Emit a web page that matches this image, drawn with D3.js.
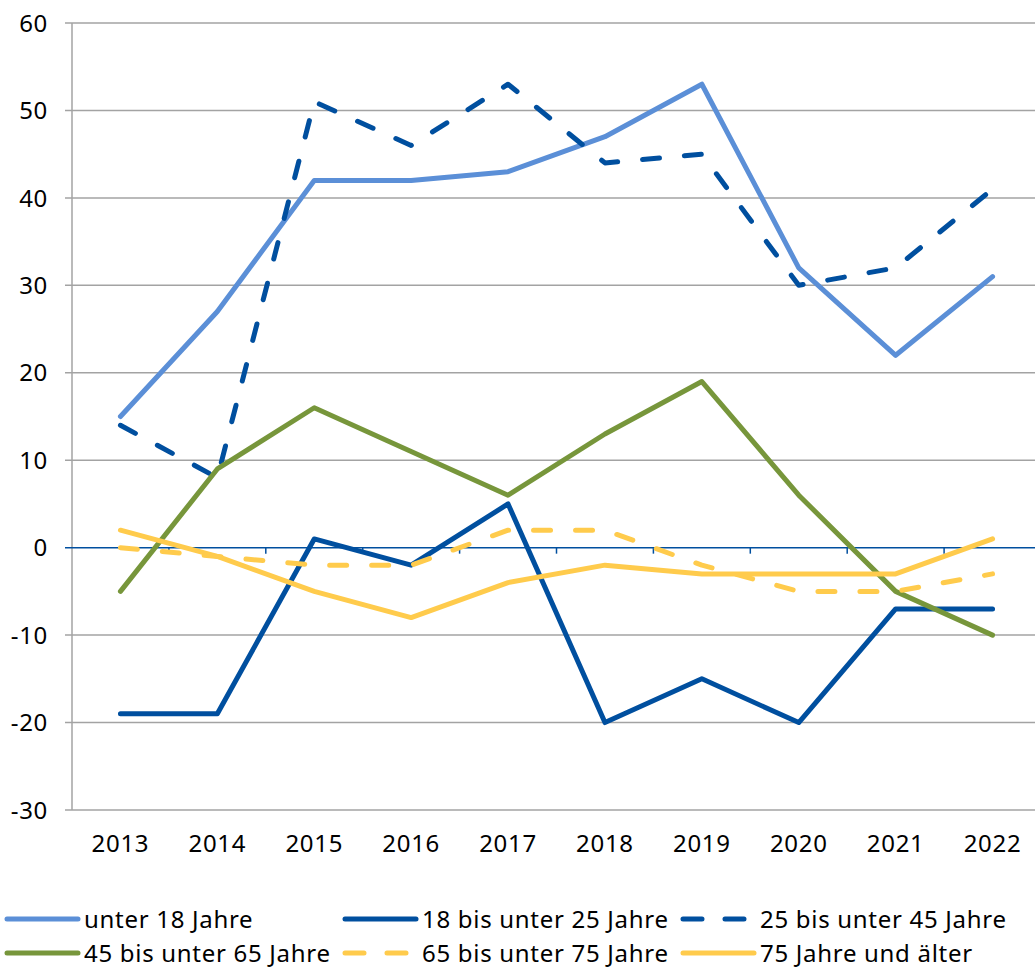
<!DOCTYPE html>
<html>
<head>
<meta charset="utf-8">
<script src="https://cdn.jsdelivr.net/npm/d3@7"></script>
<style>
  body { margin: 0; background: #fff; }
  svg text { font-family: 'Noto Sans', sans-serif; fill: #000; letter-spacing: 0.7px; }
</style>
</head>
<body>
<svg id="chart" width="1035" height="968"></svg>
<script>
let years = ['2013', '2014', '2015', '2016', '2017', '2018', '2019', '2020', '2021', '2022']
let yTicks = [-30, -20, -10, 0, 10, 20, 30, 40, 50, 60]

let unter18 = [15, 27, 42, 42, 43, 47, 53, 32, 22, 31]
let von18bis25 = [-19, -19, 1, -2, 5, -20, -15, -20, -7, -7]
let von25bis45 = [14, 8, 51, 46, 53, 44, 45, 30, 32, 41]
let von45bis65 = [-5, 9, 16, 11, 6, 13, 19, 6, -5, -10]
let von65bis75 = [0, -1, -2, -2, 2, 2, -2, -5, -5, -3]
let ab75 = [2, -1, -5, -8, -4, -2, -3, -3, -3, 1]

let series = [
  { name: 'unter 18 Jahre', values: unter18, color: '#5b8fd7', dashed: false },
  { name: '18 bis unter 25 Jahre', values: von18bis25, color: '#004f9f', dashed: false },
  { name: '25 bis unter 45 Jahre', values: von25bis45, color: '#004f9f', dashed: true },
  { name: '45 bis unter 65 Jahre', values: von45bis65, color: '#77963b', dashed: false },
  { name: '65 bis unter 75 Jahre', values: von65bis75, color: '#ffcb4c', dashed: true },
  { name: '75 Jahre und älter', values: ab75, color: '#ffcb4c', dashed: false }
]

let svg = d3.select('#chart')

let xScale = d3.scaleBand().domain(years).range([72, 1041])
let yScale = d3.scaleLinear().domain([-30, 60]).range([810, 23])

// grid lines
svg.selectAll('.grid')
  .data(yTicks.filter(d => d !== 0))
  .enter()
  .append('line')
  .attr('class', 'grid')
  .attr('x1', 65)
  .attr('x2', 1035)
  .attr('y1', d => yScale(d))
  .attr('y2', d => yScale(d))
  .attr('stroke', '#a3a3a3')
  .attr('stroke-width', 1.5)

// y axis line
svg.append('line')
  .attr('x1', 72).attr('x2', 72)
  .attr('y1', yScale(60)).attr('y2', yScale(-30))
  .attr('stroke', '#a3a3a3')
  .attr('stroke-width', 1.5)

// zero line with category ticks
svg.append('line')
  .attr('x1', 65).attr('x2', 1035)
  .attr('y1', yScale(0)).attr('y2', yScale(0))
  .attr('stroke', '#004f9f')
  .attr('stroke-width', 1.5)

svg.selectAll('.zero-tick')
  .data(years.slice(1))
  .enter()
  .append('line')
  .attr('class', 'zero-tick')
  .attr('x1', d => xScale(d))
  .attr('x2', d => xScale(d))
  .attr('y1', yScale(0))
  .attr('y2', yScale(0) + 6)
  .attr('stroke', '#004f9f')
  .attr('stroke-width', 1.5)

// y labels
svg.selectAll('.y-label')
  .data(yTicks)
  .enter()
  .append('text')
  .attr('class', 'y-label')
  .attr('x', 48)
  .attr('y', d => yScale(d))
  .attr('dy', '0.36em')
  .attr('text-anchor', 'end')
  .attr('font-size', 24)
  .text(d => d)

// x labels
svg.selectAll('.x-label')
  .data(years)
  .enter()
  .append('text')
  .attr('class', 'x-label')
  .attr('x', d => xScale(d) + xScale.bandwidth() / 2)
  .attr('y', 843)
  .attr('dy', '0.36em')
  .attr('text-anchor', 'middle')
  .attr('font-size', 24)
  .text(d => d)

let line = d3.line()
  .x((d, i) => xScale(years[i]) + xScale.bandwidth() / 2)
  .y(d => yScale(d))

svg.selectAll('.series')
  .data(series)
  .enter()
  .append('path')
  .attr('class', 'series')
  .attr('d', d => line(d.values))
  .attr('fill', 'none')
  .attr('stroke', d => d.color)
  .attr('stroke-width', 5)
  .attr('stroke-linejoin', 'round')
  .attr('stroke-linecap', 'round')
  .attr('stroke-dasharray', d => (d.dashed ? '17,25' : null))

// legend
let legendX = [7, 345, 683]
let legendY = [919, 953]

let legend = svg.selectAll('.legend')
  .data(series)
  .enter()
  .append('g')
  .attr('class', 'legend')
  .attr('transform', (d, i) => `translate(${legendX[i % 3]},${legendY[Math.floor(i / 3)]})`)

legend.append('line')
  .attr('x1', 0)
  .attr('x2', 71)
  .attr('y1', 0)
  .attr('y2', 0)
  .attr('stroke', d => d.color)
  .attr('stroke-width', 5)
  .attr('stroke-linecap', 'round')
  .attr('stroke-dasharray', d => (d.dashed ? '19,23' : null))

legend.append('text')
  .attr('x', 77)
  .attr('y', 0)
  .attr('dy', '0.36em')
  .attr('font-size', 24)
  .text(d => d.name)
</script>
</body>
</html>
